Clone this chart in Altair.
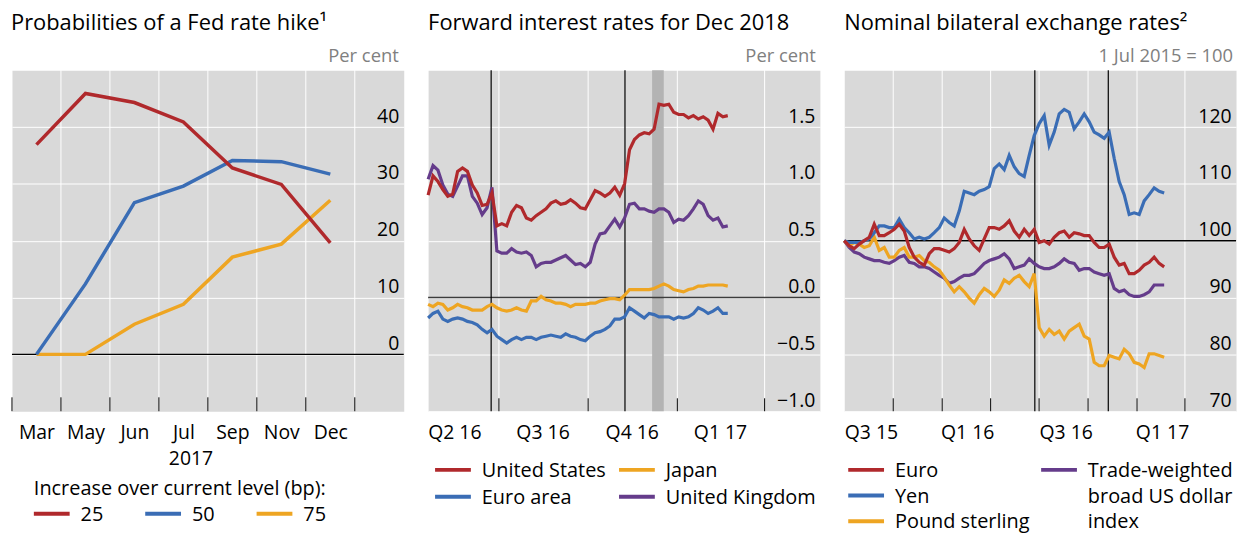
import altair as alt
import pandas as pd

FONT = "Open Sans"
W, H = 394, 343
BG = "#d9d9d9"
TITLE_SIZE = 22
LABEL_SIZE = 19.5
LEGEND_SIZE = 20
SUB_SIZE = 18.5

# ---------------- Panel 1 data ----------------
months = ["Mar", "May", "Jun", "Jul", "Sep", "Nov", "Dec"]
hike_names = ["25", "50", "75"]
hike_colors = ["#b0292c", "#3a6db5", "#eea522"]
hike25 = [36.9, 45.9, 44.3, 40.9, 32.8, 29.9, 19.6]
hike50 = [0.0, 12.4, 26.7, 29.6, 34.1, 33.9, 31.7]
hike75 = [0.0, 0.0, 5.3, 8.8, 17.1, 19.4, 27.1]

# ---------------- Panel 2 data ----------------
fwd_names = ["United States", "Japan", "Euro area", "United Kingdom"]
fwd_colors = ["#b0292c", "#eea522", "#3a6db5", "#653c8b"]
fwd_start, fwd_end, fwd_n = "2016-04-19", "2017-02-22", 62
us = [0.90, 1.07, 1.02, 0.95, 0.89, 0.91, 1.11, 1.14, 1.11, 0.99,
      0.92, 0.81, 0.82, 0.92, 0.63, 0.65, 0.63, 0.75, 0.81, 0.79,
      0.70, 0.68, 0.72, 0.75, 0.78, 0.83, 0.85, 0.82, 0.83, 0.86,
      0.83, 0.79, 0.78, 0.86, 0.94, 0.92, 0.89, 0.92, 0.97, 0.90,
      1.00, 1.30, 1.39, 1.43, 1.45, 1.44, 1.48, 1.70, 1.69, 1.70,
      1.63, 1.61, 1.61, 1.58, 1.60, 1.57, 1.59, 1.56, 1.48, 1.62,
      1.59, 1.60]
uk = [1.04, 1.16, 1.12, 0.99, 0.91, 0.89, 0.98, 1.07, 1.07, 0.89,
      0.83, 0.73, 0.79, 0.97, 0.41, 0.39, 0.39, 0.43, 0.40, 0.39,
      0.40, 0.37, 0.27, 0.30, 0.31, 0.31, 0.33, 0.35, 0.37, 0.33,
      0.29, 0.30, 0.27, 0.31, 0.47, 0.56, 0.57, 0.63, 0.69, 0.62,
      0.70, 0.82, 0.83, 0.78, 0.78, 0.76, 0.75, 0.78, 0.78, 0.75,
      0.66, 0.69, 0.68, 0.72, 0.78, 0.85, 0.82, 0.72, 0.68, 0.70,
      0.62, 0.63]
jp = [-0.06, -0.08, -0.05, -0.06, -0.11, -0.09, -0.06, -0.08, -0.09, -0.11,
      -0.11, -0.11, -0.08, -0.06, -0.09, -0.11, -0.12, -0.11, -0.09, -0.11,
      -0.12, -0.03, -0.03, 0.01, -0.02, -0.03, -0.05, -0.05, -0.06, -0.08,
      -0.06, -0.06, -0.06, -0.05, -0.05, -0.03, -0.02, -0.01, -0.01, -0.02,
      0.02, 0.07, 0.07, 0.07, 0.07, 0.07, 0.08, 0.10, 0.12, 0.10,
      0.07, 0.06, 0.05, 0.07, 0.08, 0.10, 0.10, 0.11, 0.11, 0.11,
      0.11, 0.10]
ea = [-0.18, -0.14, -0.12, -0.19, -0.21, -0.19, -0.18, -0.19, -0.21, -0.22,
      -0.24, -0.28, -0.31, -0.28, -0.34, -0.37, -0.40, -0.37, -0.35, -0.37,
      -0.35, -0.35, -0.37, -0.35, -0.34, -0.33, -0.34, -0.35, -0.32, -0.34,
      -0.35, -0.37, -0.38, -0.34, -0.31, -0.30, -0.28, -0.25, -0.19, -0.19,
      -0.17, -0.09, -0.12, -0.15, -0.18, -0.14, -0.15, -0.17, -0.17, -0.17,
      -0.19, -0.17, -0.18, -0.17, -0.14, -0.09, -0.11, -0.14, -0.12, -0.09,
      -0.14, -0.14]
fwd_events = ["2016-06-23", "2016-11-08"]
fwd_shade = ["2016-12-06", "2016-12-18"]
fwd_quarters = ["2016-07-01", "2016-10-01", "2017-01-01", "2017-04-01"]
fwd_label_dates = ["2016-05-16", "2016-08-15", "2016-11-15", "2017-02-14"]

# ---------------- Panel 3 data ----------------
fx_names = ["Euro", "Yen", "Pound sterling", "Trade-weighted broad US dollar index"]
fx_colors = ["#b0292c", "#3a6db5", "#eea522", "#653c8b"]
fx_start, fx_end, fx_n = "2015-07-01", "2017-02-21", 65
yen = [100.0, 99.7, 99.7, 99.7, 100.0, 100.3, 101.4, 102.6, 102.6, 102.3,
       102.3, 103.8, 102.3, 101.4, 100.3, 100.6, 100.3, 100.6, 101.4, 102.3,
       104.0, 103.2, 102.6, 105.2, 108.7, 108.4, 108.1, 108.7, 109.0, 109.5,
       112.7, 113.5, 112.5, 115.0, 113.0, 111.8, 111.3, 115.0, 118.5, 120.6,
       122.0, 116.8, 119.1, 122.3, 123.1, 122.6, 119.7, 120.9, 122.3, 120.9,
       119.1, 118.6, 118.0, 119.1, 114.5, 110.4, 108.1, 104.6, 104.9, 104.6,
       107.0, 108.1, 109.3, 108.7, 108.4]
euro = [100.0, 99.1, 98.6, 99.4, 100.0, 100.6, 102.9, 100.9, 100.9, 101.4,
        102.0, 102.9, 101.7, 98.8, 97.1, 96.2, 95.7, 97.7, 98.6, 98.6,
        98.3, 98.0, 98.6, 99.7, 102.0, 100.3, 99.1, 98.3, 100.3, 102.3,
        102.3, 102.0, 102.6, 103.5, 101.7, 100.6, 102.0, 100.9, 102.0, 99.7,
        100.0, 99.4, 100.6, 101.4, 101.7, 100.6, 101.4, 101.2, 100.9, 100.9,
        99.7, 98.8, 98.8, 99.4, 97.1, 95.7, 96.0, 94.2, 94.2, 94.8,
        95.7, 96.2, 97.1, 96.0, 95.4]
sterling = [100.0, 99.1, 99.7, 99.4, 98.8, 99.1, 100.6, 98.3, 98.8, 97.1,
            97.1, 98.3, 98.8, 97.1, 97.1, 97.4, 96.5, 96.2, 95.4, 94.8,
            93.6, 92.2, 91.0, 91.9, 91.0, 89.9, 89.0, 90.5, 91.6, 91.0,
            90.2, 91.3, 93.1, 92.5, 93.4, 93.9, 92.8, 91.9, 94.2, 84.7,
            83.2, 84.4, 83.5, 84.1, 82.7, 84.1, 84.7, 85.3, 83.2, 82.7,
            78.6, 78.0, 78.0, 79.8, 79.5, 79.2, 80.9, 80.1, 78.6, 78.3,
            77.7, 80.1, 80.1, 79.8, 79.5]
twi = [100.0, 98.8, 98.0, 97.7, 97.1, 96.8, 96.5, 96.5, 96.2, 96.0,
       96.5, 97.1, 97.4, 96.2, 96.0, 95.4, 95.4, 95.1, 94.5, 93.9,
       93.4, 92.5, 92.8, 93.4, 93.9, 93.9, 94.2, 95.1, 96.0, 96.5,
       96.8, 97.1, 97.7, 96.8, 95.1, 95.4, 95.7, 96.8, 96.0, 95.4,
       95.1, 95.1, 95.4, 96.0, 96.8, 96.2, 96.0, 94.8, 95.1, 95.1,
       94.5, 94.2, 93.9, 94.2, 91.6, 91.0, 91.3, 90.5, 90.2, 90.2,
       90.5, 91.0, 92.2, 92.2, 92.2]
fx_events = ["2016-06-23", "2016-11-08"]
fx_quarters = ["2015-10-01", "2016-01-01", "2016-04-01", "2016-07-01",
               "2016-10-01", "2017-01-01", "2017-04-01"]
fx_label_dates = ["2015-08-20", "2016-02-17", "2016-08-20", "2017-02-17"]

one = pd.DataFrame({"k": [0]})


def dt(s):
    t = pd.Timestamp(s)
    return alt.DateTime(year=t.year, month=t.month, date=t.day)


def txt(s, x, y, size=LEGEND_SIZE, color="black", align="left", baseline="alphabetic"):
    return alt.Chart(one).mark_text(
        text=s, align=align, baseline=baseline, fontSize=size, font=FONT, color=color
    ).encode(x=alt.value(x), y=alt.value(y))


def legend_entry(name, color, x, y):
    sym = alt.Chart(one).mark_rule(color=color, strokeWidth=4).encode(
        x=alt.value(x), x2=alt.value(x + 36), y=alt.value(y))
    lab = txt(name, x + 47, y + 1, baseline="middle")
    return [sym, lab]


def yaxis(values, fmt=None):
    kw = dict(orient="right", values=values, title=None, grid=True, gridColor="white",
              gridWidth=1, gridOpacity=1, ticks=False, tickSize=0, domain=False,
              labelAlign="right", labelBaseline="alphabetic", labelPadding=-5,
              labelOffset=-5, labelFontSize=LABEL_SIZE, labelFont=FONT, labelColor="black",
              labelOverlap=False, labelFlush=False)
    if fmt:
        kw["format"] = fmt
    return alt.Axis(**kw)


def xaxis(values, **extra):
    return alt.Axis(values=values, title=None, grid=False, ticks=False, domain=False,
                    labelFontSize=LABEL_SIZE, labelFont=FONT, labelColor="black",
                    labelPadding=27, labelBaseline="alphabetic", labelFlush=False,
                    labelOverlap=False, **extra)


# ---------------- Panel 1 ----------------
rows = []
for name, vals in [("75", hike75), ("50", hike50), ("25", hike25)]:
    for i, v in enumerate(vals):
        rows.append({"idx": i, "value": v, "series": name})
df1 = pd.DataFrame(rows)
bounds1 = pd.DataFrame({"idx": [i - 0.5 for i in range(len(months) + 1)]})
label_expr1 = "[" + ",".join("'%s'" % m for m in months) + "][datum.value]"
X1 = dict(scale=alt.Scale(domain=[-0.5, len(months) + 0.5], nice=False, zero=False),
          axis=xaxis(list(range(len(months))), labelExpr=label_expr1))
ys1 = alt.Scale(domain=[-10, 50], nice=False, zero=False)
ya1 = yaxis([0, 10, 20, 30, 40])

p1_grid = alt.Chart(bounds1).transform_filter("datum.idx > 0").mark_rule(
    color="white", strokeWidth=1).encode(x=alt.X("idx:Q", **X1))
p1_ticks = alt.Chart(bounds1).mark_rule(color="black", strokeWidth=1).encode(
    x=alt.X("idx:Q", **X1), y=alt.value(H - 14), y2=alt.value(H))
p1_zero = alt.Chart(one).mark_rule(color="black", strokeWidth=1.5).encode(
    y=alt.YDatum(0, scale=ys1, axis=ya1))
p1_lines = alt.Chart(df1).mark_line(strokeWidth=3.5).encode(
    x=alt.X("idx:Q", **X1),
    y=alt.Y("value:Q", scale=ys1, axis=ya1),
    color=alt.Color("series:N", scale=alt.Scale(domain=hike_names, range=hike_colors), legend=None),
)
p1_layers = [p1_grid, p1_zero, p1_ticks, p1_lines,
             txt("Probabilities of a Fed rate hike\u00b9", -1, -40, size=TITLE_SIZE),
             txt("Per cent", W - 5, -8, size=SUB_SIZE, color="#808080", align="right"),
             txt("2017", 180, 397, size=LABEL_SIZE, align="center"),
             txt("Increase over current level (bp):", 22, 427)]
for i, (n, c) in enumerate(zip(hike_names, hike_colors)):
    p1_layers += legend_entry(n, c, 22 + 112 * i, 446)
p1 = alt.layer(*p1_layers).properties(width=W, height=H)

# ---------------- Panel 2 ----------------
dates2 = pd.date_range(fwd_start, fwd_end, periods=fwd_n)
rows = []
for name, vals in [("United Kingdom", uk), ("Japan", jp), ("Euro area", ea), ("United States", us)]:
    for d, v in zip(dates2, vals):
        rows.append({"date": d, "value": v, "series": name})
df2 = pd.DataFrame(rows)
X2 = dict(scale=alt.Scale(domain=[dt("2016-04-19"), dt("2017-05-28")], nice=False),
          axis=xaxis([dt(s) for s in fwd_label_dates], format="Q%q %y"))
ys2 = alt.Scale(domain=[-1, 2], nice=False, zero=False)
ya2 = yaxis([-1.0, -0.5, 0.0, 0.5, 1.0, 1.5], ".1f")
q2 = pd.DataFrame({"date": pd.to_datetime(fwd_quarters)})
ev2 = pd.DataFrame({"date": pd.to_datetime(fwd_events)})
sh2 = pd.DataFrame({"date": [pd.Timestamp(fwd_shade[0])], "end": [pd.Timestamp(fwd_shade[1])]})

p2_grid = alt.Chart(q2).mark_rule(color="white", strokeWidth=1).encode(x=alt.X("date:T", **X2))
p2_shade = alt.Chart(sh2).mark_rect(color="#b3b3b3").encode(x=alt.X("date:T", **X2), x2="end:T")
p2_ev = alt.Chart(ev2).mark_rule(color="black", strokeWidth=1.2).encode(x=alt.X("date:T", **X2))
p2_ticks = alt.Chart(q2).mark_rule(color="black", strokeWidth=1).encode(
    x=alt.X("date:T", **X2), y=alt.value(H - 13), y2=alt.value(H))
p2_zero = alt.Chart(one).mark_rule(color="#3c3c3c", strokeWidth=1.5).encode(
    y=alt.YDatum(0, scale=ys2, axis=ya2))
p2_lines = alt.Chart(df2).mark_line(strokeWidth=3.2).encode(
    x=alt.X("date:T", **X2),
    y=alt.Y("value:Q", scale=ys2, axis=ya2),
    color=alt.Color("series:N", scale=alt.Scale(domain=fwd_names, range=fwd_colors), legend=None),
)
p2_layers = [p2_grid, p2_shade, p2_ticks, p2_zero, p2_ev, p2_lines,
             txt("Forward interest rates for Dec 2018", 0, -40, size=TITLE_SIZE),
             txt("Per cent", W - 4, -8, size=SUB_SIZE, color="#808080", align="right")]
for i, (n, c) in enumerate(zip(fwd_names, fwd_colors)):
    p2_layers += legend_entry(n, c, 7 + 185 * (i % 2), 402 + 27 * (i // 2))
p2 = alt.layer(*p2_layers).properties(width=W, height=H)

# ---------------- Panel 3 ----------------
dates3 = pd.date_range(fx_start, fx_end, periods=fx_n)
rows = []
for name, vals in [("Trade-weighted broad US dollar index", twi), ("Pound sterling", sterling),
                   ("Yen", yen), ("Euro", euro)]:
    for d, v in zip(dates3, vals):
        rows.append({"date": d, "value": v, "series": name})
df3 = pd.DataFrame(rows)
X3 = dict(scale=alt.Scale(domain=[dt("2015-07-01"), dt("2017-07-06")], nice=False),
          axis=xaxis([dt(s) for s in fx_label_dates], format="Q%q %y"))
ys3 = alt.Scale(domain=[70, 130], nice=False, zero=False)
ya3 = yaxis([70, 80, 90, 100, 110, 120])
q3 = pd.DataFrame({"date": pd.to_datetime(fx_quarters)})
ev3 = pd.DataFrame({"date": pd.to_datetime(fx_events)})

p3_grid = alt.Chart(q3).mark_rule(color="white", strokeWidth=1).encode(x=alt.X("date:T", **X3))
p3_ev = alt.Chart(ev3).mark_rule(color="black", strokeWidth=1.2).encode(x=alt.X("date:T", **X3))
p3_ticks = alt.Chart(q3).mark_rule(color="black", strokeWidth=1).encode(
    x=alt.X("date:T", **X3), y=alt.value(H - 13), y2=alt.value(H))
p3_base = alt.Chart(one).mark_rule(color="black", strokeWidth=1.5).encode(
    y=alt.YDatum(100, scale=ys3, axis=ya3))
p3_lines = alt.Chart(df3).mark_line(strokeWidth=3.2).encode(
    x=alt.X("date:T", **X3),
    y=alt.Y("value:Q", scale=ys3, axis=ya3),
    color=alt.Color("series:N", scale=alt.Scale(domain=fx_names, range=fx_colors), legend=None),
)
p3_layers = [p3_grid, p3_ticks, p3_base, p3_ev, p3_lines,
             txt("Nominal bilateral exchange rates\u00b2", 0, -40, size=TITLE_SIZE),
             txt("1 Jul 2015 = 100", W - 3, -8, size=SUB_SIZE, color="#808080", align="right")]
for i in range(3):
    p3_layers += legend_entry(fx_names[i], fx_colors[i], 4, 402 + 25.8 * i)
p3_layers.append(alt.Chart(one).mark_rule(color=fx_colors[3], strokeWidth=4).encode(
    x=alt.value(198), x2=alt.value(234), y=alt.value(402)))
for j, line in enumerate(["Trade-weighted", "broad US dollar", "index"]):
    p3_layers.append(txt(line, 245, 403 + 25.8 * j, baseline="middle"))
p3 = alt.layer(*p3_layers).properties(width=W, height=H)

chart = alt.hconcat(p1, p2, p3, spacing=24.5, bounds="flush").resolve_scale(
    color="independent", x="independent", y="independent"
).properties(
    padding={"left": 3, "top": 3, "right": 5, "bottom": 5}
).configure(font=FONT).configure_view(fill=BG, strokeOpacity=0)

chart.save("out.html", embed_options={"renderer": "svg", "actions": False})
